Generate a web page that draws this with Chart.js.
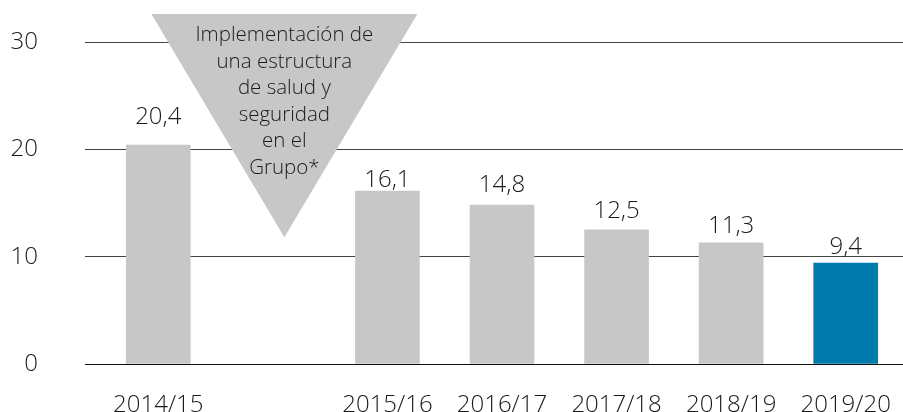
<!DOCTYPE html>
<html>
<head>
<meta charset="utf-8">
<script src="https://cdn.jsdelivr.net/npm/chart.js@4.4.1/dist/chart.umd.min.js"></script>
<style>
  html, body { margin: 0; padding: 0; background: #fff; }
  #wrap { width: 903px; height: 412px; position: relative; }
</style>
</head>
<body>
<div id="wrap"><canvas id="c"></canvas></div>
<script>
// ---- data ----
const categories = ['2014/15', '', '2015/16', '2016/17', '2017/18', '2018/19', '2019/20'];
const values = [20.4, null, 16.1, 14.8, 12.5, 11.3, 9.4];
const yTickValues = [0, 10, 20, 30];
const noteLines = ['Implementación de', 'una estructura', 'de salud y', 'seguridad', 'en el', 'Grupo*'];

// ---- style ----
const FONT = 'Open Sans';
const WEIGHT = '300';
const TEXT = '#1a1a1a';
const GRAY = '#c6c7c6';
const BLUE = '#0079ab';
const labelGap = [21, 0, 4, 13, 12, 10, 9];

const fmt = v => v.toFixed(1).replace('.', ',');

const valueLabels = {
  id: 'valueLabels',
  afterDatasetsDraw(chart) {
    const ctx = chart.ctx;
    const meta = chart.getDatasetMeta(0);
    ctx.save();
    ctx.fillStyle = TEXT;
    ctx.font = WEIGHT + ' 24px "' + FONT + '"';
    ctx.textAlign = 'center';
    ctx.textBaseline = 'alphabetic';
    meta.data.forEach((bar, i) => {
      const v = values[i];
      if (v === null || v === undefined) return;
      ctx.fillText(fmt(v), bar.x, bar.y - labelGap[i]);
    });
    ctx.restore();
  }
};

const note = {
  id: 'note',
  beforeDatasetsDraw(chart) {
    const ctx = chart.ctx;
    const xs = chart.scales.x, ys = chart.scales.y;
    const cx = xs.getPixelForValue(1) + 11.5;
    const topY = ys.getPixelForValue(32.6);
    const apexY = ys.getPixelForValue(11.8);
    const half = 133;
    ctx.save();
    ctx.fillStyle = GRAY;
    ctx.beginPath();
    ctx.moveTo(cx - half, topY);
    ctx.lineTo(cx + half, topY);
    ctx.lineTo(cx, apexY);
    ctx.closePath();
    ctx.fill();
    ctx.fillStyle = TEXT;
    ctx.font = WEIGHT + ' 20.5px "' + FONT + '"';
    ctx.textAlign = 'center';
    ctx.textBaseline = 'alphabetic';
    noteLines.forEach((t, i) => {
      ctx.fillText(t, cx, topY + 27 + i * 26.5);
    });
    ctx.restore();
  }
};

new Chart(document.getElementById('c'), {
  type: 'bar',
  data: {
    labels: categories,
    datasets: [{
      data: values,
      backgroundColor: ctx => ctx.dataIndex === values.length - 1 ? BLUE : GRAY,
      barThickness: 64,
      borderWidth: 0
    }]
  },
  options: {
    responsive: true,
    maintainAspectRatio: false,
    animation: false,
    layout: { autoPadding: false, padding: { top: 42, right: 0, left: 0, bottom: 0 } },
    plugins: { legend: { display: false }, tooltip: { enabled: false } },
    scales: {
      x: {
        grid: { display: false, drawTicks: false },
        border: { display: true, color: '#111', width: 1 },
        ticks: { color: TEXT, padding: 27, font: { family: FONT, size: 24, weight: WEIGHT }, maxRotation: 0, autoSkip: false },
        afterFit: s => { s.height = 48; s.paddingLeft = 0; s.paddingRight = 0; }
      },
      y: {
        min: 0, max: 30,
        afterBuildTicks: s => { s.ticks = yTickValues.map(v => ({ value: v })); },
        grid: {
          color: c => (c.tick && c.tick.value === 0) ? '#111' : '#444',
          lineWidth: 1, drawTicks: true, tickLength: 16
        },
        border: { display: false },
        ticks: { color: TEXT, padding: 47, font: { family: FONT, size: 24, weight: WEIGHT } },
        afterFit: s => { s.width = 101; s.paddingTop = 0; s.paddingBottom = 0; }
      }
    }
  },
  plugins: [note, valueLabels]
});
</script>
</body>
</html>
